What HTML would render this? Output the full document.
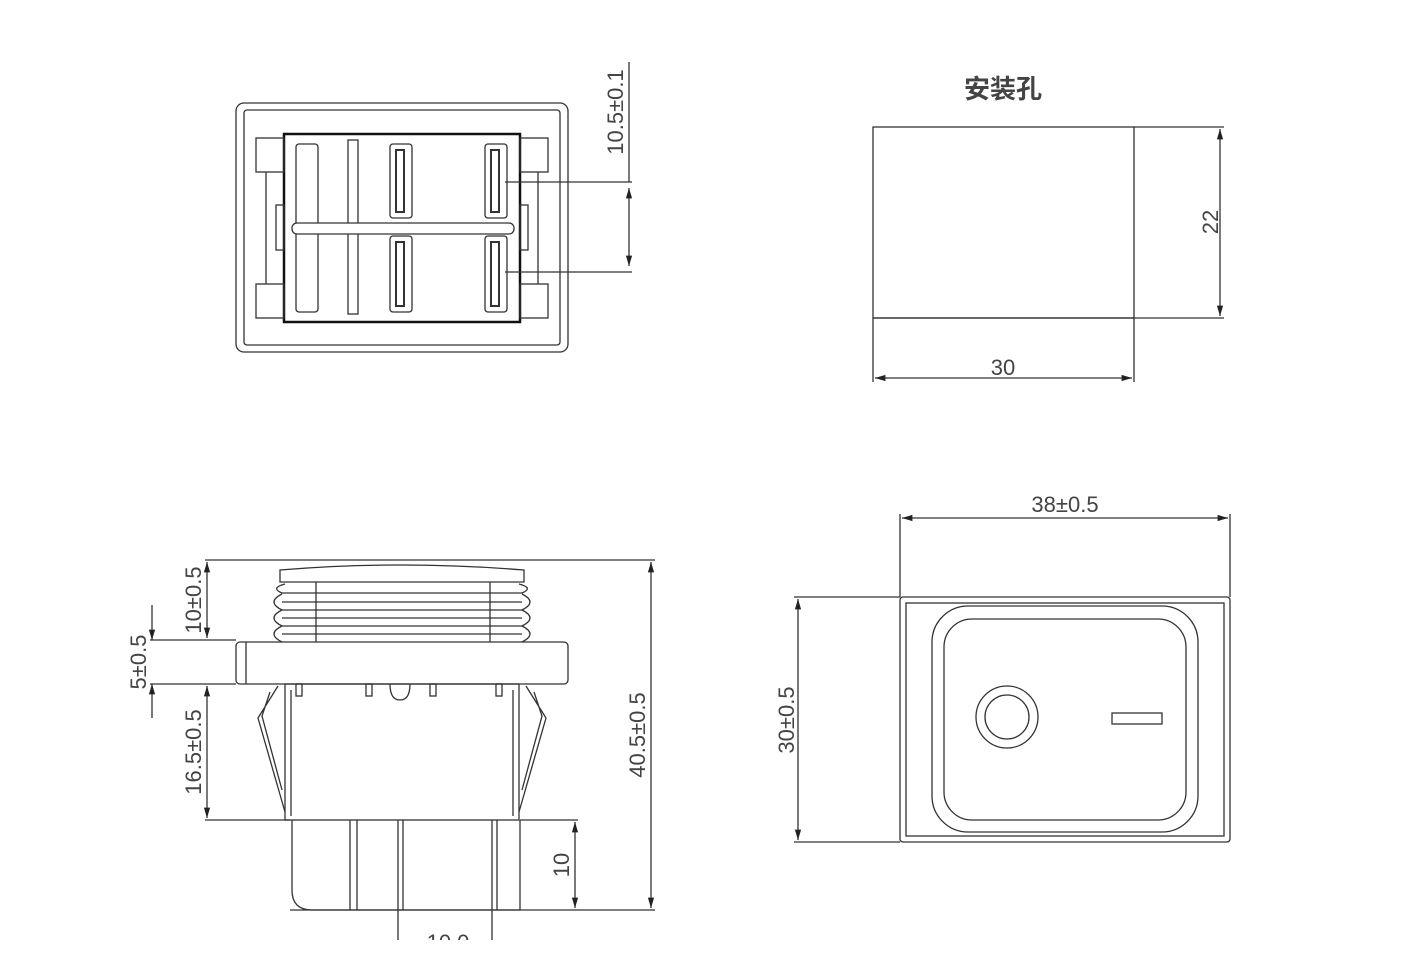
<!DOCTYPE html>
<html><head><meta charset="utf-8"><style>
html,body{margin:0;padding:0;background:#fff;width:1426px;height:963px;overflow:hidden}
svg{display:block}
text{font-family:"Liberation Sans","Noto Sans CJK SC",sans-serif;fill:#444}
</style></head><body>
<svg width="1426" height="963" viewBox="0 0 1426 963" xmlns="http://www.w3.org/2000/svg">
<defs>
<marker id="a" viewBox="0 0 10 10" refX="10" refY="5" markerWidth="8" markerHeight="8" orient="auto-start-reverse"><path d="M0,2 L10,5 L0,8 z" fill="#222"/></marker>
</defs>
<g fill="none" stroke="#333" stroke-width="1.3">
<!-- TOP LEFT -->
<rect x="236" y="103" width="332" height="249" rx="8"/>
<rect x="244" y="110" width="316" height="235" rx="3"/>
<rect x="284" y="134" width="236" height="188" stroke-width="2.5" stroke="#111"/>
<rect x="256" y="138" width="28" height="34"/><rect x="256" y="284" width="28" height="34"/>
<rect x="520" y="138" width="28" height="34"/><rect x="520" y="284" width="28" height="34"/>
<line x1="266" y1="172" x2="266" y2="284"/><line x1="538" y1="172" x2="538" y2="284"/>
<rect x="276" y="205" width="8" height="45"/><rect x="520" y="205" width="8" height="45"/>
<rect x="296" y="144" width="22" height="168" rx="3"/>
<rect x="348" y="140" width="10" height="174"/>
<rect x="390" y="144" width="22" height="74" rx="3"/><rect x="396" y="150" width="8" height="62" stroke-width="2"/>
<rect x="390" y="236" width="22" height="76" rx="3"/><rect x="396" y="242" width="8" height="64" stroke-width="2"/>
<rect x="485" y="144" width="22" height="74" rx="3"/><rect x="491" y="150" width="8" height="62" stroke-width="2"/>
<rect x="485" y="236" width="22" height="76" rx="3"/><rect x="491" y="242" width="8" height="64" stroke-width="2"/>
<rect x="292" y="223" width="222" height="11" rx="5" fill="#fff"/>
<line x1="505" y1="182" x2="632" y2="182"/><line x1="505" y1="272" x2="632" y2="272"/>
<line x1="629" y1="62" x2="629" y2="182"/>
<line x1="629" y1="188" x2="629" y2="266" marker-start="url(#a)" marker-end="url(#a)"/>

<!-- TOP RIGHT -->
<rect x="873" y="127" width="261" height="191"/>
<line x1="1134" y1="127" x2="1224" y2="127"/><line x1="873" y1="318" x2="1224" y2="318"/>
<line x1="1220" y1="129" x2="1220" y2="316" marker-start="url(#a)" marker-end="url(#a)"/>
<line x1="873" y1="318" x2="873" y2="382"/><line x1="1134" y1="318" x2="1134" y2="382"/>
<line x1="875" y1="378" x2="1132" y2="378" marker-start="url(#a)" marker-end="url(#a)"/>

<!-- BOTTOM RIGHT -->
<rect x="900" y="597" width="330" height="245" rx="3"/>
<rect x="906" y="603" width="318" height="233"/>
<rect x="932" y="606" width="266" height="226" rx="36"/>
<rect x="944" y="619" width="242" height="201" rx="28"/>
<circle cx="1007" cy="717" r="31"/><circle cx="1007" cy="717" r="22"/>
<rect x="1112" y="713" width="50" height="11"/>
<line x1="900" y1="514" x2="900" y2="597"/><line x1="1230" y1="514" x2="1230" y2="597"/>
<line x1="902" y1="518" x2="1228" y2="518" marker-start="url(#a)" marker-end="url(#a)"/>
<line x1="794" y1="597" x2="900" y2="597"/><line x1="794" y1="842" x2="900" y2="842"/>
<line x1="798" y1="599" x2="798" y2="840" marker-start="url(#a)" marker-end="url(#a)"/>

<!-- BOTTOM LEFT -->
<line x1="205" y1="560" x2="655" y2="560"/>
<path d="M280,582 L280,570 Q400,560 524,570 L524,582 Z"/>
<path d="M285,584 Q270,588 282,593 L522,593 Q534,588 519,584"/>
<path d="M282,594 Q266,602 282,610 Q266,618 282,626 Q266,634 282,642 M522,594 Q538,602 522,610 Q538,618 522,626 Q538,634 522,642"/>
<line x1="282" y1="602" x2="522" y2="602"/><line x1="282" y1="610" x2="522" y2="610"/><line x1="282" y1="618" x2="522" y2="618"/><line x1="282" y1="626" x2="522" y2="626"/><line x1="282" y1="634" x2="522" y2="634"/>
<line x1="316" y1="582" x2="316" y2="642"/><line x1="490" y1="582" x2="490" y2="642"/>
<rect x="236" y="642" width="332" height="42" rx="4"/>
<line x1="246" y1="642" x2="246" y2="684"/>
<rect x="285" y="684" width="234" height="136"/><line x1="291" y1="690" x2="291" y2="816"/><line x1="513" y1="690" x2="513" y2="816"/>
<path d="M278,686 L258,718 L285,812 M270,692 L262,716 L282,790"/>
<path d="M526,686 L546,718 L519,812 M534,692 L542,716 L522,790"/>
<rect x="296" y="684" width="6" height="12"/><rect x="366" y="684" width="6" height="12"/><rect x="430" y="684" width="6" height="12"/><rect x="496" y="684" width="6" height="12"/>
<path d="M390,684 Q390,700 400,700 Q410,700 410,684"/>
<path d="M292,820 L292,890 Q292,910 312,910 L520,910 L520,820"/>
<line x1="350" y1="820" x2="350" y2="910"/><line x1="357" y1="820" x2="357" y2="910"/>
<line x1="398" y1="820" x2="398" y2="940"/><line x1="403" y1="820" x2="403" y2="910"/>
<line x1="492" y1="820" x2="492" y2="940"/><line x1="497" y1="820" x2="497" y2="910"/>
<line x1="290" y1="910" x2="655" y2="910"/>
<line x1="520" y1="820" x2="578" y2="820"/>
<line x1="651" y1="562" x2="651" y2="908" marker-start="url(#a)" marker-end="url(#a)"/>
<line x1="575" y1="822" x2="575" y2="908" marker-start="url(#a)" marker-end="url(#a)"/>
<line x1="150" y1="640" x2="236" y2="640"/><line x1="150" y1="684" x2="236" y2="684"/>
<line x1="205" y1="820" x2="290" y2="820"/>
<line x1="207" y1="562" x2="207" y2="638" marker-start="url(#a)" marker-end="url(#a)"/>
<line x1="207" y1="686" x2="207" y2="818" marker-start="url(#a)" marker-end="url(#a)"/>
<line x1="152" y1="605" x2="152" y2="640" marker-end="url(#a)"/>
<line x1="152" y1="718" x2="152" y2="684" marker-end="url(#a)"/>
</g>
<g font-size="22">
<text x="1003" y="98" text-anchor="middle" font-weight="bold" fill="#222" font-size="26">安装孔</text>
<text x="1003" y="375" text-anchor="middle">30</text>
<text transform="translate(1218,222) rotate(-90)" text-anchor="middle">22</text>
<text transform="translate(623,112) rotate(-90)" text-anchor="middle">10.5±0.1</text>
<text x="1065" y="512" text-anchor="middle">38±0.5</text>
<text transform="translate(794,720) rotate(-90)" text-anchor="middle">30±0.5</text>
<text transform="translate(201,600) rotate(-90)" text-anchor="middle">10±0.5</text>
<text transform="translate(201,752) rotate(-90)" text-anchor="middle">16.5±0.5</text>
<text transform="translate(146,662) rotate(-90)" text-anchor="middle">5±0.5</text>
<text transform="translate(645,735) rotate(-90)" text-anchor="middle">40.5±0.5</text>
<text transform="translate(569,865) rotate(-90)" text-anchor="middle">10</text>
<text x="448" y="950" text-anchor="middle">10.0</text>
</g>
<rect x="0" y="940" width="1426" height="23" fill="#fff"/>
</svg>
</body></html>
